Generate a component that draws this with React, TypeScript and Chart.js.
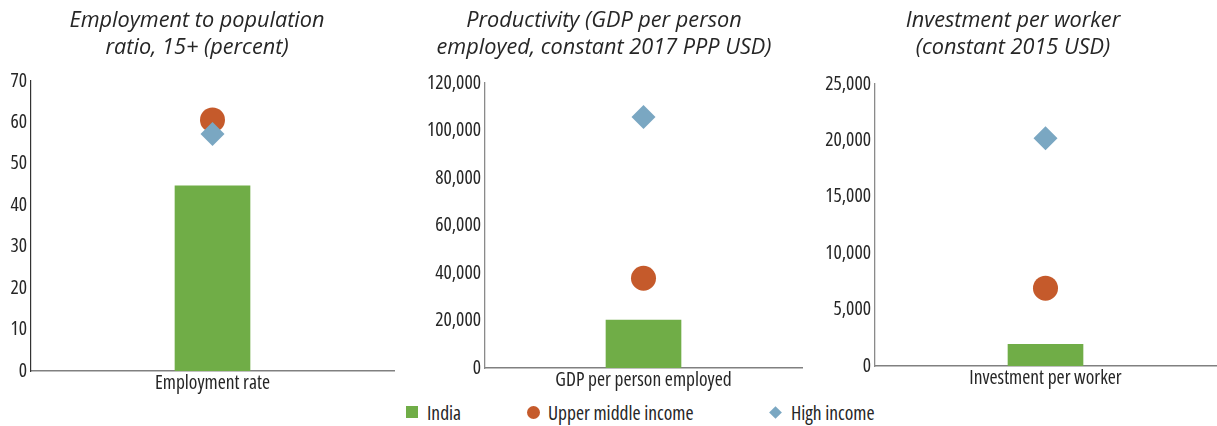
import React, { useEffect, useRef } from "react";
import { Chart, registerables } from "chart.js";

Chart.register(...registerables);

// ---- data ----
const panelTitles: string[][] = [
  ["Employment to population", "ratio, 15+ (percent)"],
  ["Productivity (GDP per person", "employed, constant 2017 PPP USD)"],
  ["Investment per worker", "(constant 2015 USD)"],
];
const categories: string[] = ["Employment rate", "GDP per person employed", "Investment per worker"];
const seriesNames: string[] = ["India", "Upper middle income", "High income"];
const indiaValues: number[] = [44.7, 20200, 1930];
const upperMiddleValues: number[] = [60.6, 37800, 6900];
const highIncomeValues: number[] = [57.2, 105700, 20200];
const yMaxValues: number[] = [70, 120000, 25000];
const yStepValues: number[] = [10, 20000, 5000];

// ---- styles / layout ----
const GREEN = "#70ad47";
const ORANGE = "#c55a2b";
const BLUE = "#7aa7c2";
const TEXT = "#262626";
const FAMILY = "'Open Sans', 'Roboto Condensed', sans-serif";

const panelLayout = [
  { left: 0, top: 0, width: 395, height: 395, axisWidth: 31, titlePadBottom: 20, yBorder: "#333333", yBorderWidth: 1.2 },
  { left: 406, top: 0, width: 397, height: 392, axisWidth: 79, titlePadBottom: 22, yBorder: "#8a8a8a", yBorderWidth: 1.3 },
  { left: 810, top: 0, width: 407, height: 390, axisWidth: 65, titlePadBottom: 23, yBorder: "#8a8a8a", yBorderWidth: 1.3 },
];

function Panel({ index }: { index: number }) {
  const ref = useRef<HTMLCanvasElement | null>(null);
  const lay = panelLayout[index];
  useEffect(() => {
    if (!ref.current) return;
    const chart = new Chart(ref.current, {
      type: "bar",
      data: {
        labels: [categories[index]],
        datasets: [
          {
            type: "line",
            label: seriesNames[2],
            data: [highIncomeValues[index]],
            showLine: false,
            pointStyle: "rectRot",
            pointRadius: 12,
            pointBorderWidth: 0,
            pointBackgroundColor: BLUE,
            backgroundColor: BLUE,
            borderColor: BLUE,
            order: 0,
          } as any,
          {
            type: "line",
            label: seriesNames[1],
            data: [upperMiddleValues[index]],
            showLine: false,
            pointStyle: "circle",
            pointRadius: 12.5,
            pointBorderWidth: 0,
            pointBackgroundColor: ORANGE,
            backgroundColor: ORANGE,
            borderColor: ORANGE,
            order: 1,
          } as any,
          {
            type: "bar",
            label: seriesNames[0],
            data: [indiaValues[index]],
            backgroundColor: GREEN,
            barThickness: 75,
            order: 2,
          } as any,
        ],
      },
      options: {
        animation: false,
        responsive: false,
        events: [],
        layout: { autoPadding: false, padding: { left: 0, right: 1, top: 0, bottom: 0 } },
        plugins: {
          legend: { display: false },
          tooltip: { enabled: false },
          title: {
            display: true,
            text: panelTitles[index],
            color: TEXT,
            font: { family: FAMILY, size: 21.7, style: "italic", weight: "400", lineHeight: 27 / 21.7 },
            padding: { top: 7.5, bottom: lay.titlePadBottom - 0.5 },
          },
        },
        scales: {
          x: {
            type: "category",
            grid: { display: false, drawTicks: false },
            border: { display: true, color: "#808080", width: 1.6 },
            ticks: { color: TEXT, font: { family: FAMILY, size: 19.5, weight: "400 condensed" }, padding: 1 },
            afterFit: (s: any) => {
              s.height = 24;
            },
          },
          y: {
            type: "linear",
            min: 0,
            max: yMaxValues[index],
            grid: { display: false, drawTicks: false },
            border: { display: true, color: lay.yBorder, width: lay.yBorderWidth },
            ticks: {
              stepSize: yStepValues[index],
              color: TEXT,
              font: { family: FAMILY, size: 19.5, weight: "400 condensed" },
              padding: 4,
              callback: (v: any) => Number(v).toLocaleString("en-US"),
            },
            afterFit: (s: any) => {
              s.width = lay.axisWidth;
            },
          },
        },
      } as any,
    });
    return () => chart.destroy();
  }, [index]);
  return (
    <canvas
      ref={ref}
      width={lay.width}
      height={lay.height}
      style={{ position: "absolute", left: lay.left, top: lay.top, width: lay.width, height: lay.height }}
    />
  );
}

const legendText: React.CSSProperties = {
  position: "absolute",
  top: 400,
  lineHeight: "25px",
  fontFamily: FAMILY,
  fontStretch: "condensed",
  fontSize: 19.5,
  color: TEXT,
  whiteSpace: "nowrap",
};

export default function App() {
  return (
    <div style={{ position: "absolute", left: 0, top: 0, width: 1217, height: 426, background: "#fff", overflow: "hidden" }}>
      <Panel index={0} />
      <Panel index={1} />
      <Panel index={2} />
      <div style={{ position: "absolute", left: 406, top: 406, width: 12, height: 12, background: GREEN }} />
      <div style={{ ...legendText, left: 427 }}>{seriesNames[0]}</div>
      <div style={{ position: "absolute", left: 527, top: 406, width: 13, height: 13, borderRadius: "50%", background: ORANGE }} />
      <div style={{ ...legendText, left: 548 }}>{seriesNames[1]}</div>
      <div
        style={{
          position: "absolute",
          left: 771,
          top: 408,
          width: 9,
          height: 9,
          background: BLUE,
          transform: "rotate(45deg)",
        }}
      />
      <div style={{ ...legendText, left: 791 }}>{seriesNames[2]}</div>
    </div>
  );
}
